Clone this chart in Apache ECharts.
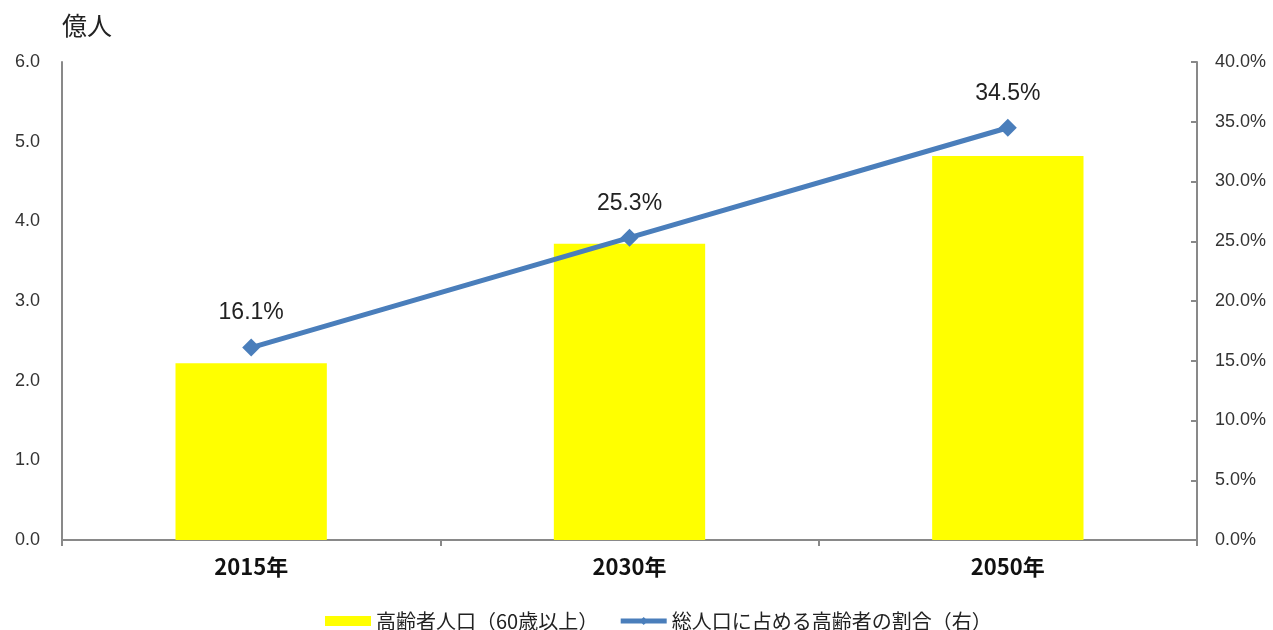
<!DOCTYPE html>
<html><head><meta charset="utf-8">
<script src="https://cdn.jsdelivr.net/npm/echarts@6/dist/echarts.min.js"></script>
<style>html,body{margin:0;padding:0;background:#fff}#c{width:1273px;height:630px}</style>
</head><body><div id="c"></div>
<script>
const categories = ['2015年', '2030年', '2050年'];
const elderlyPop = [2.22, 3.72, 4.82];
const elderlyShare = [16.1, 25.3, 34.5];
const seriesNames = ['高齢者人口（60歳以上）', '総人口に占める高齢者の割合（右）'];
const leftUnit = '億人';

const chart = echarts.init(document.getElementById('c'));
const font = '"Noto Sans CJK JP", "Liberation Sans", sans-serif';
chart.setOption({
  animation: false,
  textStyle: { fontFamily: font },
  grid: { left: 62, right: 76, top: 62, bottom: 90 },
  graphic: [{ type: 'text', left: 62, top: 13, style: { text: leftUnit, font: '25px ' + font, fill: '#222' } }],
  legend: {
    top: 606, left: 320, itemGap: 20, itemWidth: 46, itemHeight: 10,
    textStyle: { fontSize: 20, color: '#222', fontFamily: font },
    data: [
      { name: seriesNames[0], icon: 'rect' },
      { name: seriesNames[1], lineStyle: { width: 5, color: '#4A7EBB' }, itemStyle: { color: '#4A7EBB' } }
    ]
  },
  xAxis: {
    type: 'category', data: categories,
    axisLine: { lineStyle: { color: '#898989', width: 2 } },
    axisTick: { show: true, length: 6, lineStyle: { color: '#898989', width: 2 } },
    axisLabel: { fontSize: 22, fontWeight: 'bold', color: '#111', margin: 16 }
  },
  yAxis: [{
    type: 'value', min: 0, max: 6, interval: 1,
    axisLine: { show: true, lineStyle: { color: '#898989', width: 2 } },
    axisTick: { show: false },
    splitLine: { show: false },
    axisLabel: { fontSize: 18, color: '#333', margin: 22, fontFamily: 'Liberation Sans', formatter: v => v.toFixed(1) }
  }, {
    type: 'value', min: 0, max: 40, interval: 5,
    axisLine: { show: true, lineStyle: { color: '#898989', width: 2 } },
    axisTick: { show: true, inside: true, length: 6, lineStyle: { color: '#898989', width: 2 } },
    splitLine: { show: false },
    axisLabel: { fontSize: 18, color: '#333', margin: 18, fontFamily: 'Liberation Sans', formatter: v => v.toFixed(1) + '%' }
  }],
  series: [{
    name: seriesNames[0], type: 'bar', data: elderlyPop, barWidth: '40%',
    itemStyle: { color: '#FFFF00' }
  }, {
    name: seriesNames[1], type: 'line', yAxisIndex: 1, data: elderlyShare,
    symbol: 'diamond', symbolSize: 18,
    lineStyle: { color: '#4A7EBB', width: 5 },
    itemStyle: { color: '#4A7EBB' },
    label: { show: true, position: 'top', distance: 14, fontSize: 23, color: '#222', fontFamily: 'Liberation Sans', formatter: p => p.value.toFixed(1) + '%' }
  }]
});
</script></body></html>
